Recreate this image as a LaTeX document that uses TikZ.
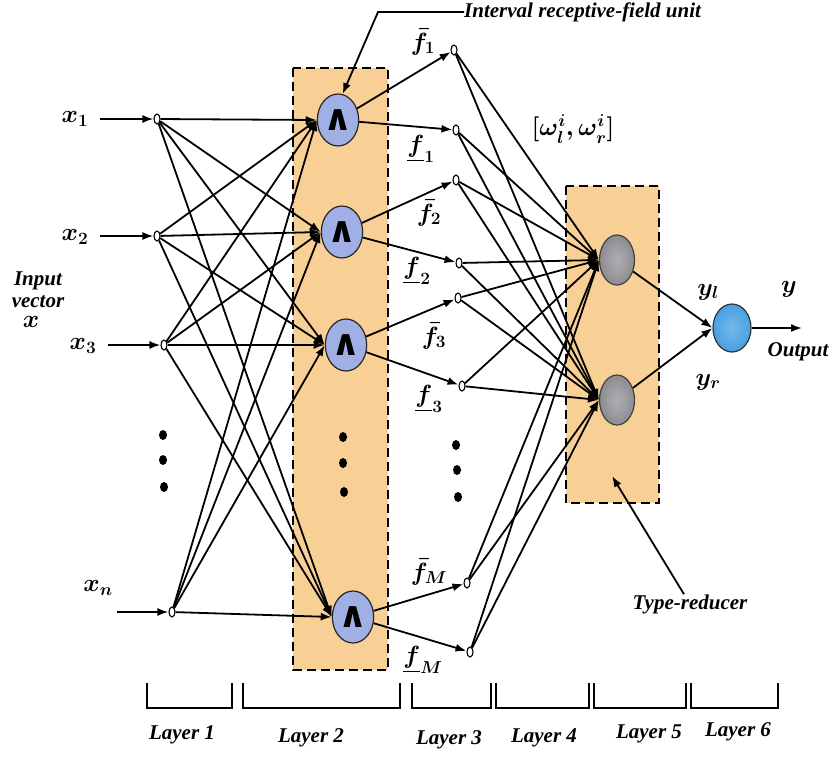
\documentclass[tikz,border=0pt]{standalone}
\usepackage{amsmath}
\usepackage{bm}
\usepackage{fontspec}
\setmainfont{Liberation Serif}
\newfontfamily\symfont{DejaVu Sans}
\usetikzlibrary{shapes.geometric,arrows.meta}

\definecolor{panelor}{RGB}{248,208,150}
\definecolor{rulebl}{RGB}{160,176,228}
\definecolor{redgray}{RGB}{140,140,146}
\definecolor{outbl}{RGB}{72,160,228}

\newcommand{\andsym}{{\symfont\bfseries\fontsize{36}{36}\selectfont ∧}}

\begin{document}
\begin{tikzpicture}[x=1pt,y=-1pt,
  neuron/.style={ellipse,draw,line width=1.1pt,fill=white,minimum width=6pt,minimum height=10pt,inner sep=0pt},
  rulenode/.style={ellipse,draw=black!85,line width=1.2pt,fill=rulebl,minimum width=37pt,minimum height=52pt,inner sep=0pt},
  rednode/.style={ellipse,draw=black!75,line width=1.2pt,inner color=redgray!70!white,outer color=redgray,minimum width=35pt,minimum height=50pt,inner sep=0pt},
  outnode/.style={ellipse,draw=black!80,line width=1.2pt,inner color=outbl!75!white,outer color=outbl,minimum width=38pt,minimum height=48pt,inner sep=0pt},
  link/.style={line width=1.8pt,-{Latex[length=11pt,width=8pt]}},
  panel/.style={draw,line width=2.4pt,dash pattern=on 9pt off 5pt,fill=panelor},
  txt/.style={font=\fontsize{21}{24}\selectfont\bfseries\itshape,inner sep=0pt},
  mth/.style={font=\fontsize{25}{27}\selectfont\boldmath,inner sep=0pt},
  bracket/.style={line width=1.8pt},
  dotmark/.style={fill=black}
]
\useasboundingbox (0,0) rectangle (832,756);

% dashed panels behind layers 2 and 5
\path[panel] (293,68) rectangle (388,670);
\path[panel] (566,186) rectangle (659,503);

% layer 1: input nodes
\node[neuron] (i1) at (157,119) {};
\node[neuron] (i2) at (157,236) {};
\node[neuron] (i3) at (164,345) {};
\node[neuron] (iN) at (172,612) {};
\coordinate (s1) at (100,119);
\coordinate (s2) at (100,236);
\coordinate (s3) at (108,345);
\coordinate (sN) at (117,612);
\foreach \s/\i in {s1/i1,s2/i2,s3/i3,sN/iN} \draw[link] (\s) -- (\i.west);

% layer 2: interval receptive-field units
\node[rulenode] (r1) at (338,120) {\andsym};
\node[rulenode] (r2) at (342,232) {\andsym};
\node[rulenode] (r3) at (346,345) {\andsym};
\node[rulenode] (rM) at (353,617) {\andsym};

\foreach \a in {i1,i2,i3,iN}
  \foreach \b in {r1,r2,r3,rM}
    \draw[link] (\a) -- (\b.west);

% layer 3: upper and lower firing strengths
\node[neuron] (u1) at (454,50) {};
\node[neuron] (l1) at (456,130) {};
\node[neuron] (u2) at (456,180) {};
\node[neuron] (l2) at (459,263) {};
\node[neuron] (u3) at (458,298) {};
\node[neuron] (l3) at (462,386) {};
\node[neuron] (uM) at (467,583) {};
\node[neuron] (lM) at (470,652) {};

\foreach \r/\u/\l in {r1/u1/l1,r2/u2/l2,r3/u3/l3,rM/uM/lM} {
  \draw[link] (\r) -- (\u);
  \draw[link] (\r) -- (\l);
}

% layer 5: type-reducer nodes
\node[rednode] (t1) at (617,260) {};
\node[rednode] (t2) at (617,400) {};

\foreach \a in {u1,l1,u2,l2,u3,l3,uM,lM}
  \foreach \b in {t1,t2}
    \draw[link] (\a) -- (\b.west);

% layer 6: output
\node[outnode] (o) at (732,328) {};
\draw[link] (t1) -- (o.west);
\draw[link] (t2) -- (o.west);
\coordinate (oy) at (802,328);
\draw[link] (o) -- (oy);

% ellipsis dots
\foreach \x/\y in {163/435,163/460,164/487,343/437,343/463,344/492,456/445,457/470,458/497}
  \fill[dotmark] (\x,\y) ellipse (4pt and 5pt);

% input labels
\node[mth] (lx1) at (75,119) {$x_{1}$};
\node[mth] (lx2) at (75,237) {$x_{2}$};
\node[mth] (lx3) at (83,346) {$x_{3}$};
\node[mth] (lxn) at (98,588) {$x_{n}$};
\node[txt] (linp) at (38,281) {Input};
\node[txt] (lvec) at (38,302) {vector};
\node[mth] (lxv) at (31,322) {$x$};

% firing strength labels
\node[mth] (lu1) at (423,42) {$\bar{f}_{1}$};
\node[mth] (ll1) at (421,149) {$\underline{f}_{1}$};
\node[mth] (lu2) at (429,213) {$\bar{f}_{2}$};
\node[mth] (ll2) at (417,271) {$\underline{f}_{2}$};
\node[mth] (lu3) at (434,336) {$\bar{f}_{3}$};
\node[mth] (ll3) at (429,399) {$\underline{f}_{3}$};
\node[mth] (luM) at (429,572) {$\bar{f}_{M}$};
\node[mth] (llM) at (423,660) {$\underline{f}_{M}$};

\node[mth] (lw) at (573,129) {$[\omega_l^i,\omega_r^i]$};

% output labels
\node[mth] (lyl) at (708,292) {$y_l$};
\node[mth] (lyr) at (708,382) {$y_r$};
\node[mth] (ly) at (789,289) {$y$};
\node[txt] (lout) at (798,352) {Output};

% annotations with leaders
\node[txt,anchor=west] (lirf) at (464,12) {Interval receptive-field unit};
\coordinate (bend) at (378,12);
\draw[link] (lirf.west) -- (bend) -- (r1.80);

\node[txt] (ltr) at (690,604) {Type-reducer};
\coordinate (trtip) at (612,476);
\draw[link] ([xshift=-6pt]ltr.north) -- (trtip);

% layer brackets
\draw[bracket] (147,683) -- (147,708) -- (232,708) -- (232,683);
\draw[bracket] (243,683) -- (243,708) -- (400,708) -- (400,683);
\draw[bracket] (412,683) -- (412,708) -- (491,708) -- (491,683);
\draw[bracket] (496,683) -- (496,708) -- (589,708) -- (589,683);
\draw[bracket] (594,683) -- (594,708) -- (686,708) -- (686,683);
\draw[bracket] (691,683) -- (691,708) -- (778,708) -- (778,683);

\node[txt] (ly1) at (182,735) {Layer 1};
\node[txt] (ly2) at (311,738) {Layer 2};
\node[txt] (ly3) at (449,740) {Layer 3};
\node[txt] (ly4) at (544,738) {Layer 4};
\node[txt] (ly5) at (649,734) {Layer 5};
\node[txt] (ly6) at (738,732) {Layer 6};
\end{tikzpicture}
\end{document}
